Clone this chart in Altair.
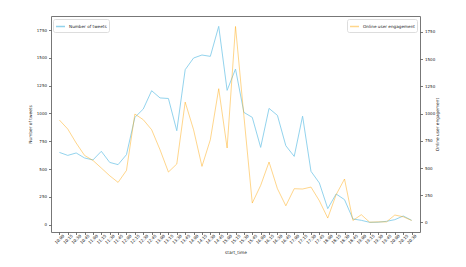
import altair as alt
import pandas as pd

start_time = ["10:00", "10:15", "10:30", "10:45", "11:00", "11:15", "11:30", "11:45",
              "12:00", "12:15", "12:30", "12:45", "13:00", "13:15", "13:30", "13:45",
              "14:00", "14:15", "14:30", "14:45", "15:00", "15:15", "15:30", "15:45",
              "16:00", "16:15", "16:30", "16:45", "17:00", "17:15", "17:30", "17:45",
              "18:00", "18:15", "18:30", "18:45", "19:00", "19:15", "19:30", "19:45",
              "20:00", "20:15", "20:30"]
tweets = [650, 623, 645, 600, 582, 660, 560, 540, 630, 965, 1040, 1205, 1140, 1135,
          845, 1394, 1499, 1526, 1514, 1784, 1208, 1400, 1010, 965, 695, 1046, 983,
          710, 614, 976, 480, 375, 144, 276, 225, 51, 39, 21, 22, 30, 45, 78, 39]
engagement = [941, 858, 730, 616, 570, 500, 429, 368, 478, 996, 944, 852, 668, 463,
              537, 1106, 852, 515, 760, 1229, 684, 1801, 980, 178, 340, 555, 310,
              153, 310, 307, 325, 199, 40, 255, 399, 18, 71, 2, 5, 5, 68, 52, 18]
y_ticks = [0, 250, 500, 750, 1000, 1250, 1500, 1750]

df = pd.DataFrame({"start_time": start_time, "tweets": tweets, "engagement": engagement})

FONT = "DejaVu Sans"
TXT = "#222222"

x_enc = alt.X(
    "start_time:O", sort=start_time,
    scale=alt.Scale(type="point", padding=2.1),
    axis=alt.Axis(title="start_time", labelAngle=-45, labelAlign="center",
                  labelBaseline="middle", labelPadding=4.5, tickSize=2.5,
                  titleX=184.5, titleY=20, titleBaseline="middle", titleAlign="center",
                  domain=False, labelOverlap=False),
)

legend_common = dict(symbolType="stroke", symbolSize=81, symbolStrokeWidth=1.5,
                     labelFontSize=4.2, labelFont=FONT, labelColor=TXT, labelOffset=3,
                     padding=2, strokeColor="#dddddd", fillColor="white",
                     cornerRadius=2, title=None, orient="none")

left = alt.Chart(df).transform_calculate(
    series="'Number of tweets'"
).mark_line(strokeWidth=1, strokeOpacity=0.9).encode(
    x=x_enc,
    y=alt.Y("tweets:Q",
            scale=alt.Scale(domain=[-66, 1877], nice=False, zero=False),
            axis=alt.Axis(title="Number of tweets", orient="left", values=y_ticks,
                          format="d", tickSize=2.5, labelPadding=2, domain=False,
                          titleAngle=270, titleX=-21, titleY=108,
                          titleBaseline="middle", titleAlign="center")),
    color=alt.Color("series:N",
                    scale=alt.Scale(range=["#87CEEB"]),
                    legend=alt.Legend(legendX=2, legendY=3, symbolOpacity=0.9,
                                      **legend_common)),
)

right = alt.Chart(df).transform_calculate(
    series="'Online user engagement'"
).mark_line(strokeWidth=1, strokeOpacity=0.45).encode(
    x=x_enc,
    y=alt.Y("engagement:Q",
            scale=alt.Scale(domain=[-88, 1897], nice=False, zero=False),
            axis=alt.Axis(title="Online user engagement", orient="right", values=y_ticks,
                          format="d", tickSize=2.5, labelPadding=2, domain=False,
                          titleAngle=270, titleX=17, titleY=108,
                          titleBaseline="middle", titleAlign="center")),
    color=alt.Color("series:N",
                    scale=alt.Scale(range=["#FFA500"]),
                    legend=alt.Legend(legendX=296, legendY=3, symbolOpacity=0.45,
                                      **legend_common)),
)

chart = alt.layer(left, right).resolve_scale(
    y="independent", color="independent"
).properties(
    width=369, height=216,
    autosize=alt.AutoSizeParams(type="none"),
    padding={"left": 51, "top": 16, "right": 46, "bottom": 35},
    background="white",
).configure_view(
    stroke="#777777", strokeWidth=1
).configure_axis(
    grid=False, labelFont=FONT, titleFont=FONT, labelFontSize=4, titleFontSize=4.3,
    labelColor=TXT, titleColor=TXT, titleFontWeight="normal",
    tickColor="#555555", tickWidth=0.8,
)

chart.save("out.html", embed_options={"renderer": "svg", "actions": False})
